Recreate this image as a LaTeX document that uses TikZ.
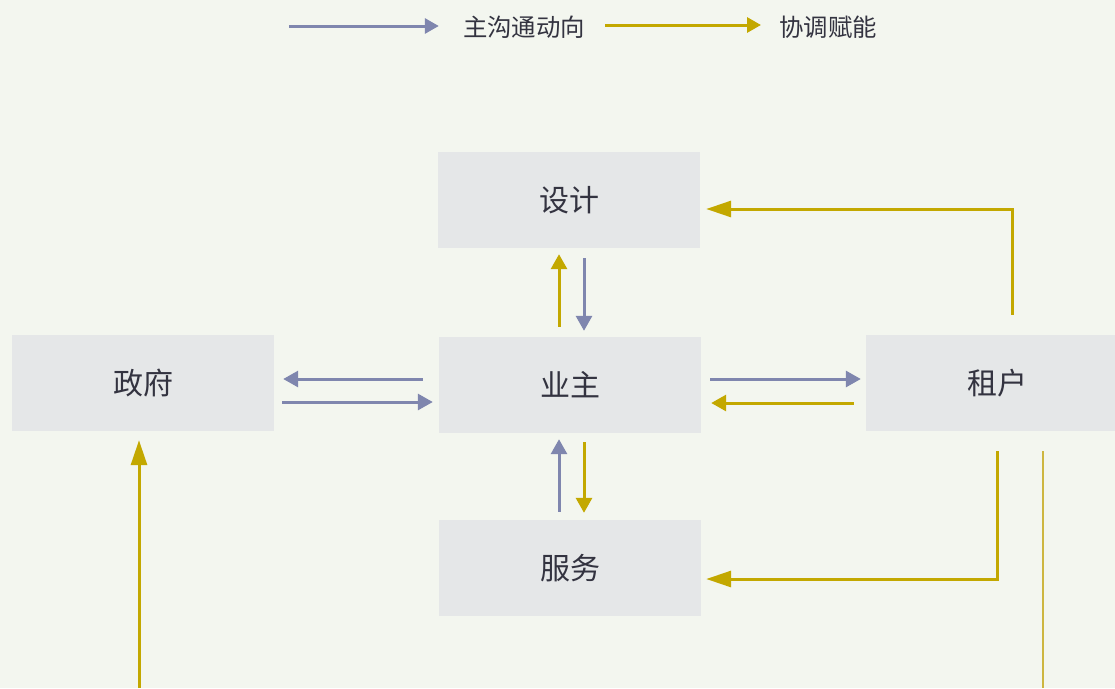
\documentclass[tikz,border=0pt]{standalone}
\usepackage{fontspec}
\setmainfont{Noto Sans CJK SC}
\usetikzlibrary{arrows.meta}
\definecolor{bgc}{HTML}{F3F6EF}
\definecolor{boxc}{HTML}{E5E7E8}
\definecolor{purp}{HTML}{7F86AE}
\definecolor{gold}{HTML}{C3A800}
\definecolor{lgold}{HTML}{CDB640}
\definecolor{txt}{HTML}{333340}
\tikzset{
  box/.style={fill=boxc, draw=none, minimum width=262pt, minimum height=96pt, inner sep=0pt, text=txt, font=\fontsize{30}{33}\selectfont},
  legtxt/.style={inner sep=0pt, text=txt, font=\fontsize{24.4}{27}\selectfont},
  pur/.style={draw=purp, line width=3pt, -{Triangle[length=15pt,width=16pt]}},
  gld/.style={draw=gold, line width=3pt, -{Triangle[length=15pt,width=16pt]}},
  gldlong/.style={draw=gold, line width=3pt, -{Triangle[length=25pt,width=16pt]}},
}
\begin{document}
\begin{tikzpicture}[x=1pt, y=-1pt]
\fill[bgc] (0,0) rectangle (1115,688);
\useasboundingbox (0,0) rectangle (1115,688);
% nodes
\node[box] (design) at (569,200) {设计};
\node[box] (owner) at (570,385) {业主};
\node[box] (service) at (570,568) {服务};
\node[box] (gov) at (143,383) {政府};
\node[box] (tenant) at (997,383) {租户};
% legend
\coordinate (l1s) at (289,26);
\coordinate (l2s) at (605,25);
\node[legtxt] (leg1) at (524,27) {主沟通动向};
\node[legtxt] (leg2) at (828,27) {协调赋能};
\draw[pur, -{Triangle[length=14pt,width=15pt]}, shorten >=24pt] (l1s) -- (leg1.west |- 0,26);
\draw[gld, -{Triangle[length=14pt,width=15pt]}, shorten >=18pt] (l2s) -- (leg2.west |- 0,25);
% design <-> owner
\draw[pur, shorten <=10pt, shorten >=6pt] (design.south -| 584,0) -- (owner.north -| 584,0);
\draw[gld, shorten <=10pt, shorten >=6pt] (owner.north -| 559,0) -- (design.south -| 559,0);
% owner <-> service
\draw[pur, shorten <=8pt, shorten >=6pt] (service.north -| 559,0) -- (owner.south -| 559,0);
\draw[gld, shorten <=9pt, shorten >=7pt] (owner.south -| 584,0) -- (service.north -| 584,0);
% owner <-> gov
\draw[pur, shorten <=16pt, shorten >=9pt] (owner.west |- 0,379) -- (gov.east |- 0,379);
\draw[pur, shorten <=8pt, shorten >=6pt] (gov.east |- 0,402) -- (owner.west |- 0,402);
% owner <-> tenant
\draw[pur, shorten <=9pt, shorten >=5pt] (owner.east |- 0,379) -- (tenant.west |- 0,379);
\draw[gld, shorten <=12pt, shorten >=10pt] (tenant.west |- 0,403) -- (owner.east |- 0,403);
% tenant -> design
\draw[gldlong, shorten <=20pt, shorten >=6pt] (tenant.north -| 1012,0) |- (design.east |- 0,209);
% tenant -> service
\draw[gldlong, shorten <=20pt, shorten >=5pt] (tenant.south -| 997,0) |- (service.east |- 0,579);
% thin line
\coordinate (b1) at (1043,688);
\draw[draw=lgold, line width=2pt, shorten <=20pt] (tenant.south -| 1043,0) -- (b1);
% up to gov
\coordinate (b2) at (139,688);
\draw[gldlong, shorten >=9pt] (b2) -- (gov.south -| 139,0);
\end{tikzpicture}
\end{document}
